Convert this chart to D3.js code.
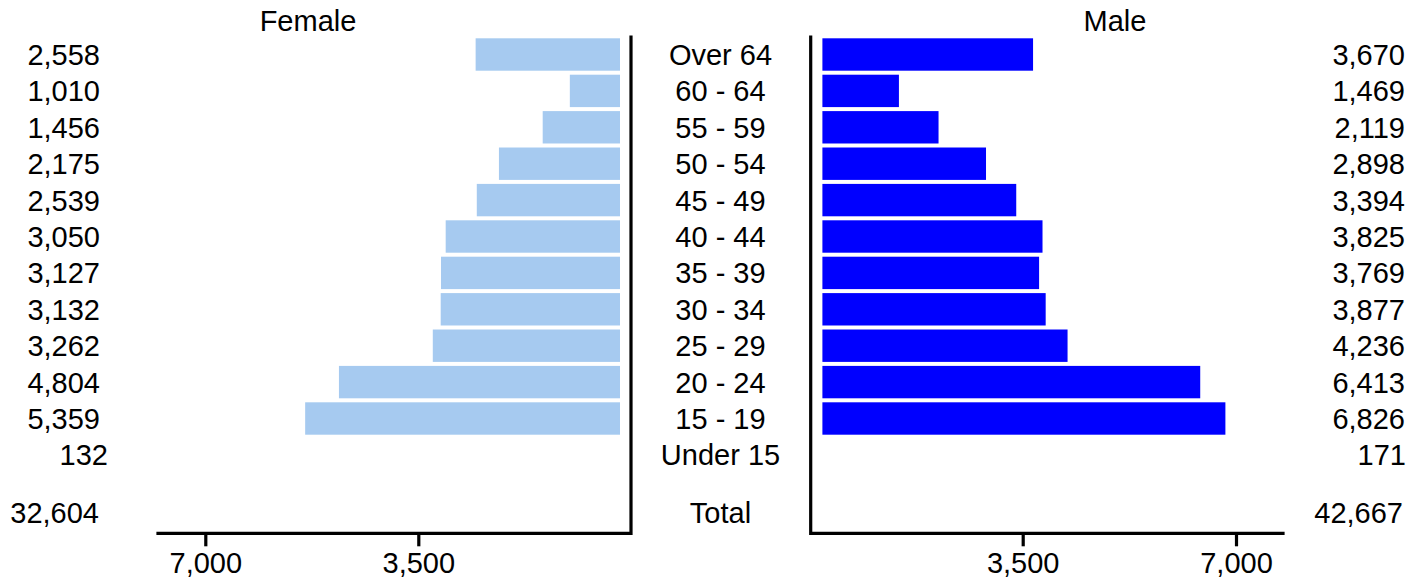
<!DOCTYPE html>
<html>
<head>
<meta charset="utf-8">
<script src="https://cdn.jsdelivr.net/npm/d3@7"></script>
<style>
  html, body { margin: 0; padding: 0; background: #fff; }
  svg text { font-family: "Liberation Sans", Arial, sans-serif; fill: #000; }
</style>
</head>
<body>
<svg id="chart" width="1424" height="579"></svg>
<script>
// ---- data ----
const ageGroups = ["Over 64", "60 - 64", "55 - 59", "50 - 54", "45 - 49", "40 - 44",
                   "35 - 39", "30 - 34", "25 - 29", "20 - 24", "15 - 19", "Under 15"];
const femaleValues = [2558, 1010, 1456, 2175, 2539, 3050, 3127, 3132, 3262, 4804, 5359, 132];
const maleValues   = [3670, 1469, 2119, 2898, 3394, 3825, 3769, 3877, 4236, 6413, 6826, 171];
const femaleTotal = 32604;
const maleTotal = 42667;
const tickValues = [7000, 3500];
const seriesNames = ["Female", "Male"];
const totalLabel = "Total";

// ---- layout ----
const svg = d3.select("#chart");
const fmt = d3.format(",");
const FS = 29;

const y = d3.scaleBand().domain(ageGroups).range([36.3, 473.1])
  .paddingInner(0.11).paddingOuter(0.055);

const xF = d3.scaleLinear().domain([0, 7000]).range([631.3, 205.3]);
const xM = d3.scaleLinear().domain([0, 7000]).range([809.4, 1236]);
const gapF = 11.3, gapM = 13;
const axisY = 533.3;

const rows = ageGroups.map((g, i) => ({ g, f: femaleValues[i], m: maleValues[i] }));

// Female bars
svg.append("g").selectAll("rect").data(rows).join("rect")
  .attr("x", d => xF(d.f))
  .attr("y", d => y(d.g))
  .attr("width", d => Math.max(0, xF(0) - gapF - xF(d.f)))
  .attr("height", y.bandwidth())
  .attr("fill", "#A6CAF0");

// Male bars
svg.append("g").selectAll("rect").data(rows).join("rect")
  .attr("x", xM(0) + gapM)
  .attr("y", d => y(d.g))
  .attr("width", d => Math.max(0, xM(d.m) - xM(0) - gapM))
  .attr("height", y.bandwidth())
  .attr("fill", "#0000FF");

// axis frame lines
const lineG = svg.append("g").attr("stroke", "#000").attr("stroke-width", 3.2).attr("fill", "none");
lineG.append("path").attr("d", `M${xF(0)-0.3},37 V${axisY} H158`).attr("stroke-linecap", "square");
lineG.append("path").attr("d", `M${xM(0)+1.3},37 V${axisY} H1283`).attr("stroke-linecap", "square");

// axes ticks
function styleAxis(g) {
  g.select(".domain").remove();
  g.selectAll(".tick line").attr("stroke", "#000").attr("stroke-width", 3.2);
  g.selectAll(".tick text").attr("font-size", FS).attr("fill", "#000")
    .attr("font-family", "'Liberation Sans', Arial, sans-serif");
}
svg.append("g").attr("transform", `translate(0,${axisY})`)
  .call(d3.axisBottom(xF).tickValues(tickValues).tickFormat(fmt).tickSize(13).tickPadding(6))
  .call(styleAxis);
svg.append("g").attr("transform", `translate(0,${axisY})`)
  .call(d3.axisBottom(xM).tickValues(tickValues.slice().reverse()).tickFormat(fmt).tickSize(13).tickPadding(6))
  .call(styleAxis);

// titles
svg.append("text").attr("x", 308).attr("y", 21).attr("dy", "0.36em")
  .attr("text-anchor", "middle").attr("font-size", FS).text(seriesNames[0]);
svg.append("text").attr("x", 1115).attr("y", 21).attr("dy", "0.36em")
  .attr("text-anchor", "middle").attr("font-size", FS).text(seriesNames[1]);

const cy = g => y(g) + y.bandwidth() / 2;
const last = ageGroups[ageGroups.length - 1];

// category labels
svg.append("g").selectAll("text").data(rows).join("text")
  .attr("x", 720.5).attr("y", d => cy(d.g)).attr("dy", "0.36em")
  .attr("text-anchor", "middle").attr("font-size", FS).text(d => d.g);

// female value labels
svg.append("g").selectAll("text").data(rows).join("text")
  .attr("x", d => d.g === last ? 108 : 100).attr("y", d => cy(d.g)).attr("dy", "0.36em")
  .attr("text-anchor", "end").attr("font-size", FS).text(d => fmt(d.f));

// male value labels
svg.append("g").selectAll("text").data(rows).join("text")
  .attr("x", d => d.g === last ? 1406 : 1405).attr("y", d => cy(d.g)).attr("dy", "0.36em")
  .attr("text-anchor", "end").attr("font-size", FS).text(d => fmt(d.m));

// totals
const totalY = 512.5;
svg.append("text").attr("x", 99).attr("y", totalY).attr("dy", "0.36em")
  .attr("text-anchor", "end").attr("font-size", FS).text(fmt(femaleTotal));
svg.append("text").attr("x", 720.5).attr("y", totalY).attr("dy", "0.36em")
  .attr("text-anchor", "middle").attr("font-size", FS).text(totalLabel);
svg.append("text").attr("x", 1403).attr("y", totalY).attr("dy", "0.36em")
  .attr("text-anchor", "end").attr("font-size", FS).text(fmt(maleTotal));
</script>
</body>
</html>
